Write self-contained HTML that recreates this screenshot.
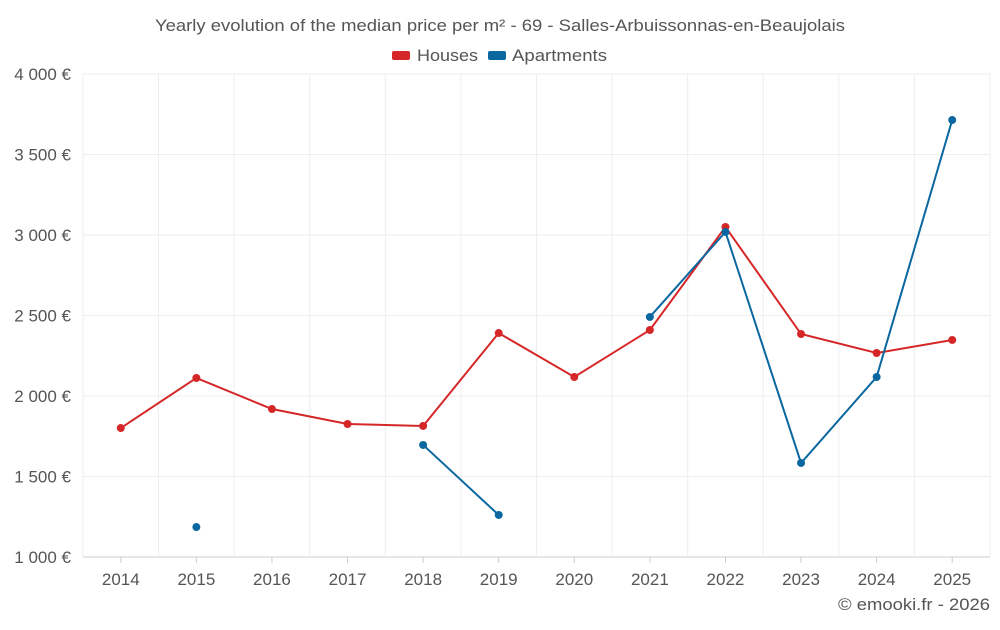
<!DOCTYPE html>
<html><head><meta charset="utf-8"><style>
body{margin:0;background:#fff;font-family:"Liberation Sans",sans-serif}
svg text{font-family:"Liberation Sans",sans-serif}
</style></head><body>
<svg id="c" width="1000" height="625">
<text x="500" y="31" text-anchor="middle" font-size="17" fill="#555" textLength="690" lengthAdjust="spacingAndGlyphs">Yearly evolution of the median price per m² - 69 - Salles-Arbuissonnas-en-Beaujolais</text>
<g>
<g><rect x="392" y="51" width="18" height="9" rx="2" fill="#d62728"/><text x="417" y="61" font-size="17" fill="#555" textLength="61" lengthAdjust="spacingAndGlyphs">Houses</text></g>
<g><rect x="488" y="51" width="18" height="9" rx="2" fill="#0a67a0"/><text x="512" y="61" font-size="17" fill="#555" textLength="95" lengthAdjust="spacingAndGlyphs">Apartments</text></g>
</g>
<g id="grid"></g><g id="axes"></g><g id="series"></g>
<text x="990" y="610" text-anchor="end" font-size="17" fill="#555" textLength="152" lengthAdjust="spacingAndGlyphs">© emooki.fr - 2026</text>
</svg>
<script>
const years=["2014","2015","2016","2017","2018","2019","2020","2021","2022","2023","2024","2025"];
const houses=[1801,2112,1919,1826,1814,2391,2118,2410,3050,2385,2267,2348];
const apartments=[null,1186,null,null,1696,1261,null,2491,3019,1584,2118,3714];
const yTicks=[1000,1500,2000,2500,3000,3500,4000];
const yTickLabels=["1 000 €","1 500 €","2 000 €","2 500 €","3 000 €","3 500 €","4 000 €"];
const NS="http://www.w3.org/2000/svg";
const L=83,R=990,T=74,B=557;
const step=(R-L)/years.length;
const x=i=>L+step*(i+0.5);
const y=v=>B-(v-1000)/3000*(B-T);
function mk(tag,attrs,parent){const e=document.createElementNS(NS,tag);for(const k in attrs)e.setAttribute(k,attrs[k]);parent.appendChild(e);return e;}
const grid=document.getElementById('grid'),axes=document.getElementById('axes'),ser=document.getElementById('series');
yTicks.forEach((t,i)=>{
 const gl=mk('line',{x1:L,x2:R,y1:y(t),y2:y(t),stroke:i==0?'#ccc':'#eee'},grid);
 
 
 const tx=mk('text',{x:71,y:y(t)+6,'text-anchor':'end','font-size':17,fill:'#555'},axes);
 tx.textContent=yTickLabels[i];
 
 
});
for(let i=0;i<=years.length;i++){
 const vl=mk('line',{x1:L+step*i,x2:L+step*i,y1:T,y2:B,stroke:'#eee'},grid);
 
 
}
years.forEach((yr,i)=>{
 const tk=mk('line',{x1:x(i),x2:x(i),y1:B,y2:B+6,stroke:'#ccc'},axes);
 
 
 const tx=mk('text',{x:x(i),y:585,'text-anchor':'middle','font-size':17,fill:'#555'},axes);
 tx.textContent=yr;
 
 
});
function draw(data,color,name){
 let d='',pen=false;
 data.forEach((v,i)=>{if(v==null){pen=false;return;}d+=(pen?'L':'M')+x(i)+','+y(v)+' ';pen=true;});
 const p=mk('path',{d:d,fill:'none',stroke:color,'stroke-width':2},ser);
 
 
 data.forEach((v,i)=>{if(v==null)return;
  const c=mk('circle',{cx:x(i),cy:y(v),r:4,fill:color},ser);
  
  
 });
}
draw(houses,'#d62728','houses');
draw(apartments,'#0a67a0','apartments');
</script>
</body></html>
